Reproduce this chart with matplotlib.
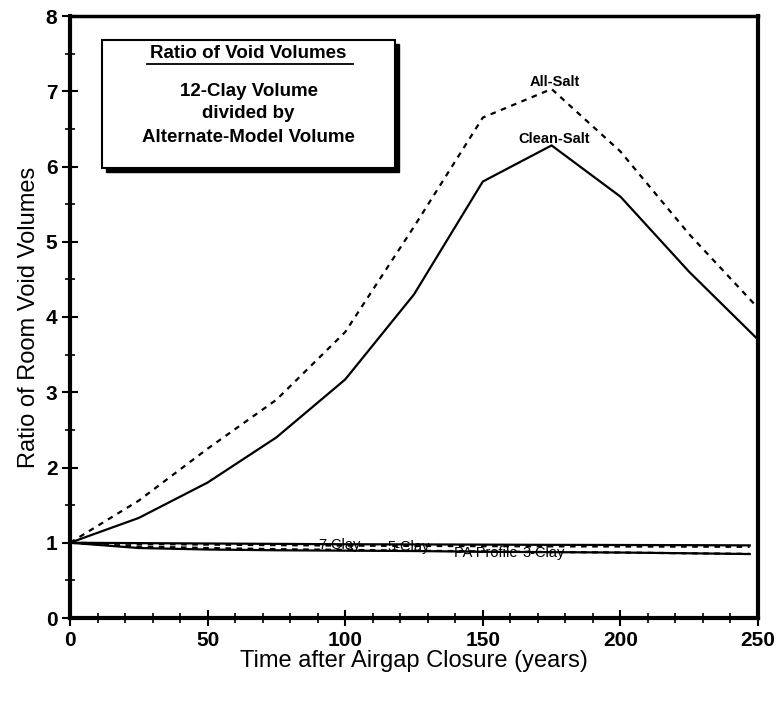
import matplotlib
matplotlib.use("Agg")
import matplotlib.pyplot as plt
from matplotlib.patches import Rectangle
from matplotlib.lines import Line2D
from matplotlib.ticker import MultipleLocator

plt.rcParams['font.family'] = ['Liberation Sans', 'DejaVu Sans']

# ---- data ----
years = [0, 25, 50, 75, 100, 125, 150, 175, 200, 225, 250]
clean_salt = [1.0, 1.33, 1.8, 2.4, 3.17, 4.3, 5.8, 6.28, 5.6, 4.6, 3.7]
all_salt = [1.0, 1.56, 2.25, 2.9, 3.8, 5.2, 6.65, 7.03, 6.2, 5.1, 4.12]
years_low = [0, 25, 50, 75, 100, 125, 150, 175, 200, 225, 247]
clay7 = [1.0, 0.995, 0.99, 0.985, 0.98, 0.978, 0.975, 0.972, 0.97, 0.968, 0.965]
clay5 = [1.0, 0.985, 0.975, 0.968, 0.962, 0.958, 0.955, 0.952, 0.95, 0.948, 0.946]
pa_profile = [1.0, 0.93, 0.91, 0.9, 0.895, 0.89, 0.88, 0.875, 0.87, 0.86, 0.85]
clay3 = [1.0, 0.95, 0.93, 0.915, 0.905, 0.895, 0.885, 0.877, 0.87, 0.86, 0.852]

x_ticks = [0, 50, 100, 150, 200, 250]
y_ticks = [0, 1, 2, 3, 4, 5, 6, 7, 8]

W, H = 779, 702
fig = plt.figure(figsize=(W / 100, H / 100), dpi=100)
ax = fig.add_axes([70 / W, 1 - 618 / H, (758 - 70) / W, (618 - 16) / H])

dash = (0, (2.5, 2.5))
ax.plot(years, clean_salt, color='black', lw=1.6)
ax.plot(years, all_salt, color='black', lw=1.6, linestyle=dash)
ax.plot(years_low, clay7, color='black', lw=1.6)
ax.plot(years_low, clay5, color='black', lw=1.6, linestyle=dash)
ax.plot(years_low, pa_profile, color='black', lw=1.6)
ax.plot(years_low, clay3, color='black', lw=1.6, linestyle=dash)

lab_kw = dict(fontsize=10.5, fontweight='bold', ha='center', va='center',
              color='black')
ax.text(176, 7.12, 'All-Salt', **lab_kw)
ax.text(176, 6.36, 'Clean-Salt', **lab_kw)
lab_kw['fontweight'] = 'normal'
lab_kw['fontsize'] = 10.5
ax.text(98, 0.97, '7-Clay', **lab_kw)
ax.text(123, 0.95, '5-Clay', **lab_kw)
ax.text(151, 0.87, 'PA Profile', **lab_kw)
ax.text(172, 0.87, '3-Clay', **lab_kw)

ax.set_xlim(0, 250)
ax.set_ylim(0, 8)
ax.set_xticks(x_ticks)
ax.set_yticks(y_ticks)
ax.xaxis.set_minor_locator(MultipleLocator(10))
ax.yaxis.set_minor_locator(MultipleLocator(0.5))
ax.tick_params(which='major', direction='inout', length=12, width=1.5,
               labelsize=15, pad=3)
ax.tick_params(which='minor', direction='inout', length=7, width=1.2)
for lab in ax.get_xticklabels() + ax.get_yticklabels():
    lab.set_fontweight('bold')
for side in ['left', 'bottom', 'right']:
    ax.spines[side].set_linewidth(3)
ax.spines['top'].set_linewidth(2.5)

ax.set_xlabel('Time after Airgap Closure (years)', fontsize=17, labelpad=0)
ax.set_ylabel('Ratio of Room Void Volumes', fontsize=17, labelpad=4)

# annotation box with drop shadow (figure pixel coords)
bx0, bx1, by0, by1 = 102, 395, 40, 168
fig.patches.append(Rectangle((bx0 / W + 4 / W, 1 - by1 / H - 4 / H),
                             (bx1 - bx0) / W, (by1 - by0) / H,
                             transform=fig.transFigure, facecolor='black',
                             edgecolor='black', zorder=5))
fig.patches.append(Rectangle((bx0 / W, 1 - by1 / H),
                             (bx1 - bx0) / W, (by1 - by0) / H,
                             transform=fig.transFigure, facecolor='white',
                             edgecolor='black', lw=1.5, zorder=6))
cx = (bx0 + bx1) / 2 / W
fig.text(cx, 1 - 53 / H, 'Ratio of Void Volumes', fontsize=13.5, fontweight='bold',
         ha='center', va='center', zorder=7)
fig.add_artist(Line2D([147 / W, 353 / W], [1 - 64 / H, 1 - 64 / H],
                      transform=fig.transFigure, color='black', lw=1.3, zorder=7))
for t, yy in [('12-Clay Volume', 91), ('divided by', 114),
              ('Alternate-Model Volume', 137)]:
    fig.text(cx, 1 - yy / H, t, fontsize=13.5, fontweight='bold',
             ha='center', va='center', zorder=7)

fig.savefig('out.png', dpi=100)
